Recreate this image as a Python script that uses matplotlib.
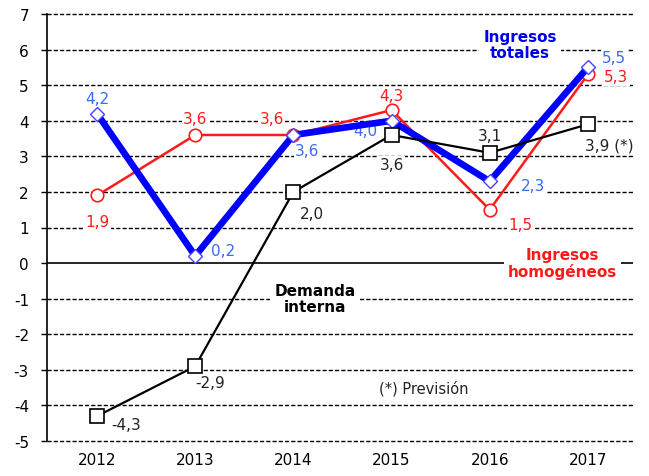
import numpy as np
import matplotlib.pyplot as plt

plt.rcParams['axes.unicode_minus'] = False

# Data
years = [2012, 2013, 2014, 2015, 2016, 2017]
ingresos_totales = [4.2, 0.2, 3.6, 4.0, 2.3, 5.5]
ingresos_homog = [1.9, 3.6, 3.6, 4.3, 1.5, 5.3]
demanda_interna = [-4.3, -2.9, 2.0, 3.6, 3.1, 3.9]

blue_lbl = ['4,2', '0,2', '3,6', '4,0', '2,3', '5,5']
red_lbl = ['1,9', '3,6', '3,6', '4,3', '1,5', '5,3']
black_lbl = ['-4,3', '-2,9', '2,0', '3,6', '3,1', '3,9 (*)']

# label offsets (x in categories, y in units)
blue_off = [(0, 0.42), (0.28, 0.14), (0.14, -0.44), (-0.27, -0.28), (0.44, -0.12), (0.27, 0.29)]
red_off = [(0, -0.73), (0, 0.46), (-0.22, 0.46), (0, 0.4), (0.31, -0.41), (0.29, -0.07)]
black_off = [(0.3, -0.23), (0.15, -0.46), (0.19, -0.6), (0, -0.83), (0, 0.48), (0.22, -0.57)]

fig = plt.figure(figsize=(6.49, 4.77), dpi=100)
ax = fig.add_axes([47/649, 35/477, 586/649, 427/477])

ax.set_xlim(2011.49, 2017.46)
ax.set_ylim(-5, 7)
ax.set_yticks(range(-5, 8))
ax.set_xticks(years)
for y in range(-5, 8):
    if y == 0:
        ax.axhline(0, color='black', lw=1.2, zorder=1)
    else:
        ax.axhline(y, color='black', lw=1, ls=(0, (3, 1.5)), zorder=1, clip_on=False)

for s in ['top', 'right', 'bottom']:
    ax.spines[s].set_visible(False)
ax.spines['left'].set_linewidth(1.2)
ax.tick_params(axis='y', length=4, width=1, labelsize=11, pad=9)
ax.tick_params(axis='x', length=0, labelsize=11, pad=8)

ax.plot(years, ingresos_homog, color='#ff1a1a', lw=1.8, marker='o', ms=9,
        mfc='white', mec='#ff1a1a', mew=1.2, zorder=3)
ax.plot(years, ingresos_totales, color='#0000ff', lw=4.8, marker='D', ms=7,
        mfc='white', mec='#4444ff', mew=1, zorder=4)
ax.plot(years, demanda_interna, color='black', lw=1.6, marker='s', ms=10,
        mfc='white', mec='black', mew=1.2, zorder=5)

box = dict(facecolor='white', edgecolor='none', pad=1)
for x, y, t, o in zip(years, ingresos_totales, blue_lbl, blue_off):
    ax.text(x + o[0], y + o[1], t, color='#3a6cf0', fontsize=11,
            ha='center', va='center', bbox=box, zorder=2)
for x, y, t, o in zip(years, ingresos_homog, red_lbl, red_off):
    ax.text(x + o[0], y + o[1], t, color='#ff1a1a', fontsize=11,
            ha='center', va='center', bbox=box, zorder=2)
for x, y, t, o in zip(years, demanda_interna, black_lbl, black_off):
    ax.text(x + o[0], y + o[1], t, color='#222222', fontsize=11,
            ha='center', va='center', bbox=box, zorder=2)

ax.text(2016.31, 6.14, 'Ingresos\ntotales', color='#0000ee', fontsize=11,
        fontweight='bold', ha='center', va='center', linespacing=1.1,
        bbox=dict(facecolor='white', edgecolor='none', pad=3), zorder=2)
ax.text(2016.74, 0.0, 'Ingresos\nhomogéneos', color='#ff1a1a', fontsize=11,
        fontweight='bold', ha='center', va='center', linespacing=1.1,
        bbox=dict(facecolor='white', edgecolor='none', pad=3), zorder=2)
ax.text(2014.22, -1.0, 'Demanda\ninterna', color='black', fontsize=11,
        fontweight='bold', ha='center', va='center', linespacing=1.1,
        bbox=dict(facecolor='white', edgecolor='none', pad=3), zorder=2)
ax.text(2015.33, -3.5, '(*) Previsión', color='#222222', fontsize=10.5,
        ha='center', va='center', zorder=2)

fig.savefig('out.png', dpi=100)
